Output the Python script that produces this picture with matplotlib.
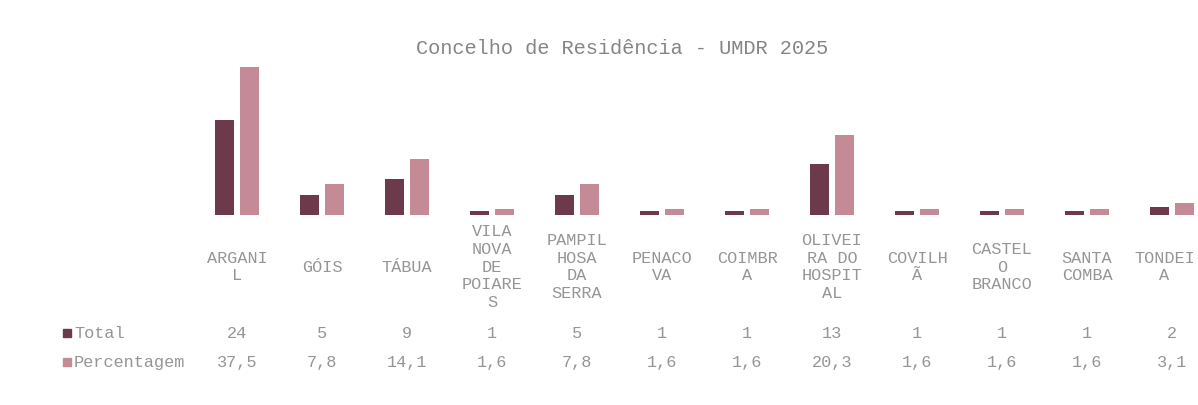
import matplotlib
matplotlib.use("Agg")
import matplotlib.pyplot as plt
import matplotlib.transforms as mtransforms
import numpy as np

title = "Concelho de Residência - UMDR 2025"
categories = ["ARGANI\nL", "GÓIS", "TÁBUA", "VILA\nNOVA\nDE\nPOIARE\nS",
              "PAMPIL\nHOSA\nDA\nSERRA", "PENACO\nVA", "COIMBR\nA",
              "OLIVEI\nRA DO\nHOSPIT\nAL", "COVILH\nÃ", "CASTEL\nO\nBRANCO",
              "SANTA\nCOMBA", "TONDEI\nA"]
total = [24, 5, 9, 1, 5, 1, 1, 13, 1, 1, 1, 2]
percentagem = [37.5, 7.8, 14.1, 1.6, 7.8, 1.6, 1.6, 20.3, 1.6, 1.6, 1.6, 3.1]
series_names = ["Total", "Percentagem"]
colors = ["#6d3a4c", "#c48a96"]

W, H = 1198, 405
fig = plt.figure(figsize=(W / 100, H / 100), dpi=100)
fig.patch.set_facecolor("white")

# axes in pixel geometry: x 194.5..1214.5, y 57..215
left, right, top, bottom = 194.5, 1214.5, 57, 215
ax = fig.add_axes([left / W, 1 - bottom / H, (right - left) / W, (bottom - top) / H])
ax.set_facecolor("none")
n = len(categories)
x = np.arange(n)
bw = 0.22
off = 0.145
ax.bar(x - off, total, width=bw, color=colors[0])
ax.bar(x + off, percentagem, width=bw, color=colors[1])
ax.set_xlim(-0.5, n - 0.5)
ax.set_ylim(0, 40)
ax.axis("off")

font = "Liberation Mono"
txt_color = "#959595"
fs = 12.2
fig.text(622 / W, 1 - 49 / H, title, ha="center", va="center",
         fontsize=14.6, family=font, color="#858585")

tr = mtransforms.blended_transform_factory(ax.transData, fig.transFigure)
for i, c in enumerate(categories):
    # keep the last (partly off-figure) column label inside the figure
    lx = i - 0.09 if i == n - 1 else i
    ax.text(lx, 1 - 267 / H, c, transform=tr, ha="center", va="center",
            fontsize=fs, family=font, color=txt_color, linespacing=1.24,
            clip_on=False)
    ax.text(i, 1 - 333 / H, str(total[i]), transform=tr, ha="center",
            va="center", fontsize=fs, family=font, color=txt_color,
            clip_on=False)
    ax.text(i, 1 - 362 / H, f"{percentagem[i]:.1f}".replace(".", ","),
            transform=tr, ha="center", va="center", fontsize=fs,
            family=font, color=txt_color, clip_on=False)

# row headers with legend keys
for ypx, name, col in [(333, series_names[0], colors[0]), (362, series_names[1], colors[1])]:
    fig.patches.append(plt.Rectangle((63 / W, 1 - (ypx + 4) / H), 8 / W, 8 / H,
                                     transform=fig.transFigure, color=col))
    fig.text(74 / W, 1 - ypx / H, name, ha="left", va="center",
             fontsize=fs, family=font, color=txt_color)

fig.savefig("out.png", dpi=100, facecolor="white")
